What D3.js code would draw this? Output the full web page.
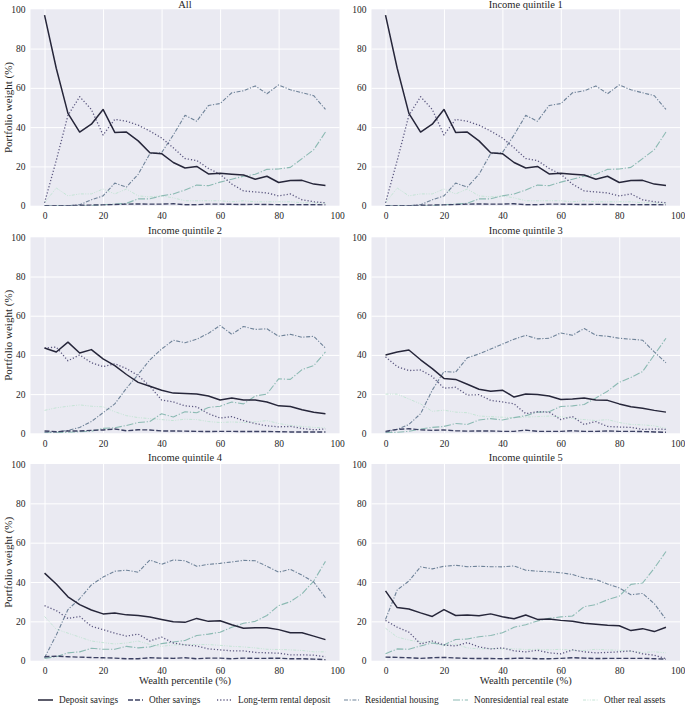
<!DOCTYPE html>
<html><head><meta charset="utf-8">
<script src="https://cdn.jsdelivr.net/npm/d3@7"></script>
<style>
body{margin:0;background:#fff;}
text{font-family:"Liberation Serif","DejaVu Serif",serif;fill:#262626;}
</style></head>
<body><svg id="chart" width="685" height="705"></svg>
<script>
const xVals = [0,4,8,12,16,20,24,28,32,36,40,44,48,52,56,60,64,68,72,76,80,84,88,92,96];
const seriesNames = ["Deposit savings","Other savings","Long-term rental deposit","Residential housing","Nonresidential real estate","Other real assets"];
const seriesColors = ["#26263a","#3c4163","#5c5880","#6f8399","#8cbab3","#c5e4d6"];
const panelTitles = ["All","Income quintile 1","Income quintile 2","Income quintile 3","Income quintile 4","Income quintile 5"];
const xTicks = [0,20,40,60,80,100];
const yTicks = [0,20,40,60,80,100];

const dataQ1 = [
 [97,70,47,37.5,41.5,49,37.3,37.5,33,27,26.5,22,19.2,20,16.2,16.5,16,15.6,13.5,15,11.8,12.8,12.9,11,10.3],
 [0,0,0,0.2,0.3,0.4,0.6,0.8,0.9,0.8,0.8,1.0,0.5,0.5,0.8,0.8,0.7,0.6,0.7,0.6,0.5,0.5,0.5,0.5,0.4],
 [1.5,23,46,55.5,49,36,44,43,41,38,34.5,29.5,24,23,19,16,11,7.5,7,6.5,5,6,3,2,1.5],
 [0,0,0,0.5,3,5,11.5,9.5,16,26.5,27,36,46,43,51,52,57.5,58.5,61,57,61.5,59,57.5,56,49],
 [0,0,0,0,0,0.5,0.8,1.2,3.5,3.5,5,6,8,10.5,10.2,12,13.5,15,16,18.5,18.7,19.5,24,28.5,37.5],
 [1.5,9,5,6,6,8.5,6,8.5,5,4.5,5,4,2.5,2.5,2.5,2.5,2,2.5,2,2,2,2,1.5,1.5,1.2]
];
const dataAll = dataQ1;
const dataQ2 = [
 [43.5,41.5,46.5,41,42.7,38,34.5,30,26,24,22,20.5,20.3,20,19,17,18,17,17,16,14,13.7,12,10.7,10],
 [1.2,0.8,1.2,1.2,1.5,1.7,2.2,1.3,1.8,1.7,1.2,1.2,1.1,1,0.9,1,1,0.9,0.9,0.9,0.8,0.7,0.7,0.7,0.7],
 [43.5,44,37,40,36,34,35.5,33,29.5,24,17,16,14,13.5,10,7.8,8.5,6.5,5,3.8,3.3,3.5,2.5,1.8,2.2],
 [0.5,0.7,1.5,3,6,10.5,15,23,30,37.5,43,47.5,46.2,48,51,55,50.5,54.5,53,53.3,49.5,50.5,49,49.5,43.5],
 [0.3,0.3,0.5,0.8,1,2.5,2.8,4,5.5,6,10,8.3,11,10.5,13.2,13.8,16,15,19,20,27.8,27.5,32.5,34.5,41.5],
 [11.7,13,13.8,14.5,13.8,13.5,11,9,8,7.5,7,6.5,7.2,7,6,5.5,5.8,5.5,5.8,6.5,5,4,3.5,3,2.7]
];
const dataQ3 = [
 [40,41.5,42.5,37.5,33,28,27.5,25,22.5,21.5,22,18.5,20,19.8,19,17.2,17.5,18,17,16.8,15,13.5,12.8,11.7,10.8],
 [1,2,2.3,1.8,1.5,1.7,1.3,1.1,1.2,1.2,1,1,1.6,1,1,1,1.3,1,1,1.2,1,1,0.9,0.7,0.5],
 [39,34,32,32.3,29,23,23.5,19.5,19.7,16.8,16,15,10,11,10.8,7,8.5,4.5,6,3.5,3.2,3,2,2.2,2],
 [0.5,2,4.5,10,22,31.5,31.2,38.5,40.5,43,45.5,48,50,48.2,48.5,51.2,50,53.5,50,49.5,48.5,48,47.5,41.5,36],
 [0.3,0.5,1,2.2,3,3.5,5,4.5,6.8,7.5,6.8,8,9,10.8,11,13.7,14,14.7,18,21.5,26,28.5,31.5,40,48.5],
 [20,20,17.5,15,11.2,11.8,10.8,10.5,8.8,8.5,8.2,8,8.3,8.5,8.8,8.5,7.5,7,6.5,7,5.5,4.5,4.3,3.8,2.5]
];
const dataQ4 = [
 [44.5,39,32.5,28.5,25.8,23.8,24.3,23.3,23,22.2,21,19.8,19.5,21.5,20,20.3,18.3,16.5,16.8,16.8,15.8,14.2,14.2,12.5,10.7],
 [2,2.3,2,1.8,1.6,1.5,1.3,1,1,1.5,1.3,1.2,1.5,1,1.3,1.3,1,1.3,1.2,1.2,1.3,1,1,0.8,0.5],
 [28,25.5,21.5,22.5,17.5,15.8,14,12.5,13.5,10,12,9,8,7.5,6,5.5,5,5,4.2,4,3.8,3,3,2.8,2],
 [1.5,13,26,31.5,38.5,42.5,45.5,46,45,51.2,49,51.2,50.8,48,49,49.5,50.2,51,50.8,48,45,46.5,43.5,40,32],
 [1.2,2,4,4.5,6.3,5.8,5.8,7.3,6.5,7,8.7,9.5,10.3,12.8,13.5,14.5,17,19,20,23,28,30,34,40.5,50.5],
 [22.5,16,14,12,10,9.2,8.5,9,10,8.2,7.3,8,8.2,8.2,8.2,7.8,7.3,7,6.5,5.8,5.7,5.5,5.2,4.5,4.5]
];
const dataQ5 = [
 [35.5,27,26.3,24.3,22.5,26,23,23.2,22.8,23.8,22.3,21.3,23.2,21,21.2,20.5,20,19,18.5,18,17.8,15.3,16.3,14.8,17],
 [1.8,1.7,1.5,1.2,1.5,1.7,1.4,1.2,1.1,1.1,1,1.2,1.3,1,1,1.2,1.5,1.3,1.1,1.2,1.2,1.2,1.2,1,0.8],
 [20.5,17,14.5,8.5,10,8,7.5,9.2,7,6,6.5,5,4.5,5.3,4,3.5,5.5,4.5,4,4.2,4.5,5,3.5,2.8,1],
 [21,36,40.5,47.7,46.7,48,48.5,47.8,48,47.8,47.7,48.2,46,45.5,45.2,44.7,43.8,42,41.3,39,37,33.5,34.2,29,21],
 [3.5,6,5.8,7.5,9,8,10.8,11,12.2,12.8,14.2,17,18.3,20.2,21.5,22.3,22.7,27.5,28.5,31,32.8,38.8,39.5,47,55.5],
 [16.5,12,10.5,9.5,9.5,7.5,8.5,6.5,6,6.2,6,6,5.7,5.8,5.5,5.8,5.3,5.2,5.8,5.5,5.3,4.8,4.2,4.5,4]
];
const panelData = [dataAll, dataQ1, dataQ2, dataQ3, dataQ4, dataQ5];

// styles
const lineWidths = [1.5,1.4,1.3,1.1,1.1,1.0];
const dashes = [null,"5,2","1.2,2","4,1.6,1.2,1.6","7,1.8,1.2,1.8","3,1.4,1,1.4,1,1.4"];

const svg = d3.select("#chart");
const colX = [[30.5,339.5],[371.5,680]];
const rowY = [[9.3,205.7],[237.3,433.3],[464,660.7]];

panelData.forEach((pd, i) => {
  const col = i % 2, row = Math.floor(i / 2);
  const x = d3.scaleLinear().domain([-4.8,100.8]).range(colX[col]);
  const y = d3.scaleLinear().domain([0,100]).range([rowY[row][1], rowY[row][0]]);
  const g = svg.append("g");
  g.append("rect").attr("x", colX[col][0]).attr("y", rowY[row][0])
    .attr("width", colX[col][1]-colX[col][0]).attr("height", rowY[row][1]-rowY[row][0])
    .attr("fill", "#eaeaf2");
  const xa = d3.axisBottom(x).tickValues(xTicks).tickSize(-(rowY[row][1]-rowY[row][0])).tickPadding(5);
  const ya = d3.axisLeft(y).tickValues(yTicks).tickSize(-(colX[col][1]-colX[col][0])).tickPadding(5);
  const gx = g.append("g").attr("transform", `translate(0,${rowY[row][1]})`).call(xa);
  const gy = g.append("g").attr("transform", `translate(${colX[col][0]},0)`).call(ya);
  [gx, gy].forEach(a => {
    a.select(".domain").remove();
    a.selectAll("line").attr("stroke", "#fff").attr("stroke-width", 1);
    a.selectAll("text").style("font-size", "9.5px").attr("fill", "#444");
  });
  gx.selectAll("line").filter(d => d === 100).remove();
  gy.selectAll("line").filter(d => d === 0 || d === 100).remove();
  gx.selectAll("text").attr("dy", "0.9em");
  const line = d3.line().x((d, k) => x(xVals[k])).y(d => y(d));
  const clipId = "clip" + i;
  g.append("clipPath").attr("id", clipId).append("rect")
    .attr("x", colX[col][0]).attr("y", rowY[row][0]-2)
    .attr("width", colX[col][1]-colX[col][0]).attr("height", rowY[row][1]-rowY[row][0]+2);
  const lg = g.append("g").attr("clip-path", `url(#${clipId})`);
  for (let s = pd.length - 1; s >= 0; s--) {
    lg.append("path").datum(pd[s]).attr("d", line)
      .attr("fill", "none").attr("stroke", seriesColors[s])
      .attr("stroke-width", lineWidths[s])
      .attr("stroke-dasharray", dashes[s])
      .attr("stroke-linejoin", "round");
  }
  g.append("text").attr("x", (colX[col][0]+colX[col][1])/2).attr("y", row === 0 ? 8 : rowY[row][0]-3)
    .attr("text-anchor", "middle").style("font-size", "10.5px").text(panelTitles[i]);
  if (col === 0) {
    g.append("text").attr("transform", `translate(8,${(rowY[row][0]+rowY[row][1])/2}) rotate(-90)`)
      .attr("text-anchor", "middle").attr("dy", "0.35em").style("font-size", "11px").text("Portfolio weight (%)");
  }
  if (row === 2) {
    g.append("text").attr("x", (colX[col][0]+colX[col][1])/2).attr("y", 684)
      .attr("text-anchor", "middle").style("font-size", "10.5px").text("Wealth percentile (%)");
  }
});

// legend
const legendX = [38,128,217,344,453,583];
const leg = svg.append("g");
seriesNames.forEach((n, s) => {
  const lx = legendX[s], ly = 700;
  leg.append("line").attr("x1", lx).attr("x2", lx+15).attr("y1", ly).attr("y2", ly)
    .attr("stroke", seriesColors[s]).attr("stroke-width", lineWidths[s])
    .attr("stroke-dasharray", dashes[s]);
  leg.append("text").attr("x", lx+21).attr("y", ly).attr("dy", "0.35em")
    .style("font-size", "9.3px").text(n);
});
</script></body></html>
